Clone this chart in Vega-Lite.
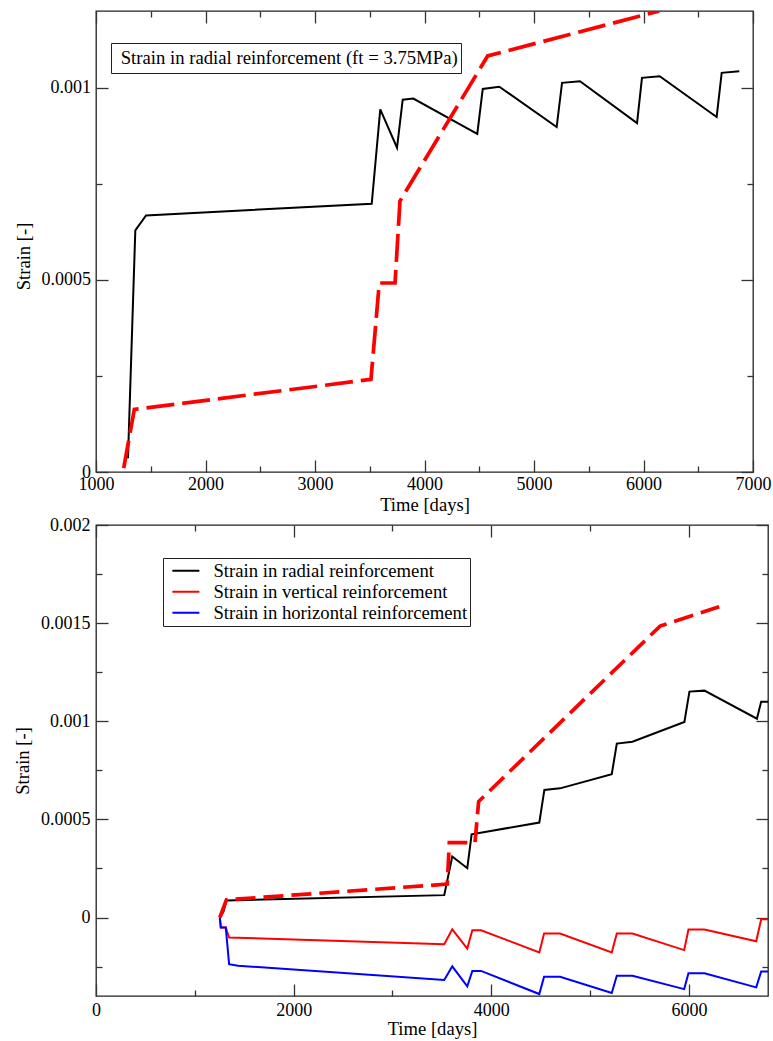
{
  "$schema": "https://vega.github.io/schema/vega-lite/v6.json",
  "background": "white",
  "padding": {"left": 12, "top": 9, "right": 4, "bottom": 2},
  "spacing": 0,
  "resolve": {"scale": {"color": "independent"}, "legend": {"color": "independent"}},
  "config": {
    "font": "Liberation Serif",
    "view": {"stroke": "#222", "strokeWidth": 1.3},
    "axis": {
      "domain": false,
      "grid": false,
      "labelFont": "Liberation Serif",
      "labelFontSize": 18,
      "labelColor": "#000",
      "labelFlush": false,
      "labelOverlap": false,
      "titleFont": "Liberation Serif",
      "titleFontSize": 18.6,
      "titleFontWeight": "normal",
      "titleColor": "#000",
      "tickColor": "#333",
      "tickWidth": 1.3
    },
    "legend": {
      "labelFont": "Liberation Serif",
      "labelFontSize": 18.7,
      "labelColor": "#000",
      "labelLimit": 0,
      "strokeColor": "#222",
      "fillColor": "#ffffff"
    }
  },
  "datasets": {
    "top_solid": [
      {"t": 1292, "strain": 0.000036, "series": "Strain in radial reinforcement (ft = 3.75MPa)"},
      {"t": 1359, "strain": 0.000629, "series": "Strain in radial reinforcement (ft = 3.75MPa)"},
      {"t": 1457, "strain": 0.000668, "series": "Strain in radial reinforcement (ft = 3.75MPa)"},
      {"t": 3518, "strain": 0.000698, "series": "Strain in radial reinforcement (ft = 3.75MPa)"},
      {"t": 3596, "strain": 0.000944, "series": "Strain in radial reinforcement (ft = 3.75MPa)"},
      {"t": 3749, "strain": 0.000844, "series": "Strain in radial reinforcement (ft = 3.75MPa)"},
      {"t": 3801, "strain": 0.000969, "series": "Strain in radial reinforcement (ft = 3.75MPa)"},
      {"t": 3898, "strain": 0.000972, "series": "Strain in radial reinforcement (ft = 3.75MPa)"},
      {"t": 4482, "strain": 0.00088, "series": "Strain in radial reinforcement (ft = 3.75MPa)"},
      {"t": 4532, "strain": 0.000997, "series": "Strain in radial reinforcement (ft = 3.75MPa)"},
      {"t": 4683, "strain": 0.001003, "series": "Strain in radial reinforcement (ft = 3.75MPa)"},
      {"t": 5207, "strain": 0.000898, "series": "Strain in radial reinforcement (ft = 3.75MPa)"},
      {"t": 5256, "strain": 0.001013, "series": "Strain in radial reinforcement (ft = 3.75MPa)"},
      {"t": 5420, "strain": 0.001017, "series": "Strain in radial reinforcement (ft = 3.75MPa)"},
      {"t": 5941, "strain": 0.000908, "series": "Strain in radial reinforcement (ft = 3.75MPa)"},
      {"t": 5986, "strain": 0.001026, "series": "Strain in radial reinforcement (ft = 3.75MPa)"},
      {"t": 6148, "strain": 0.00103, "series": "Strain in radial reinforcement (ft = 3.75MPa)"},
      {"t": 6668, "strain": 0.000924, "series": "Strain in radial reinforcement (ft = 3.75MPa)"},
      {"t": 6714, "strain": 0.001039, "series": "Strain in radial reinforcement (ft = 3.75MPa)"},
      {"t": 6875, "strain": 0.001043, "series": "Strain in radial reinforcement (ft = 3.75MPa)"}
    ],
    "top_dashed": [
      {"t": 1253, "strain": 0.00001},
      {"t": 1350, "strain": 0.000163},
      {"t": 3511, "strain": 0.000241},
      {"t": 3587, "strain": 0.000492},
      {"t": 3731, "strain": 0.000492},
      {"t": 3776, "strain": 0.000705},
      {"t": 3815, "strain": 0.000724},
      {"t": 4577, "strain": 0.001083},
      {"t": 6144, "strain": 0.0012}
    ],
    "bottom_solid": [
      {"t": 1253, "strain": 0, "series": "Strain in radial reinforcement"},
      {"t": 1290, "strain": 0.00003, "series": "Strain in radial reinforcement"},
      {"t": 1320, "strain": 0.000087, "series": "Strain in radial reinforcement"},
      {"t": 3524, "strain": 0.000114, "series": "Strain in radial reinforcement"},
      {"t": 3605, "strain": 0.000311, "series": "Strain in radial reinforcement"},
      {"t": 3757, "strain": 0.000251, "series": "Strain in radial reinforcement"},
      {"t": 3801, "strain": 0.000424, "series": "Strain in radial reinforcement"},
      {"t": 4486, "strain": 0.000484, "series": "Strain in radial reinforcement"},
      {"t": 4537, "strain": 0.00065, "series": "Strain in radial reinforcement"},
      {"t": 4696, "strain": 0.000658, "series": "Strain in radial reinforcement"},
      {"t": 5219, "strain": 0.00073, "series": "Strain in radial reinforcement"},
      {"t": 5270, "strain": 0.000886, "series": "Strain in radial reinforcement"},
      {"t": 5428, "strain": 0.000896, "series": "Strain in radial reinforcement"},
      {"t": 5954, "strain": 0.000996, "series": "Strain in radial reinforcement"},
      {"t": 6005, "strain": 0.001151, "series": "Strain in radial reinforcement"},
      {"t": 6157, "strain": 0.001156, "series": "Strain in radial reinforcement"},
      {"t": 6688, "strain": 0.001013, "series": "Strain in radial reinforcement"},
      {"t": 6731, "strain": 0.0011, "series": "Strain in radial reinforcement"},
      {"t": 6800, "strain": 0.0011, "series": "Strain in radial reinforcement"},
      {"t": 1253, "strain": 0, "series": "Strain in vertical reinforcement"},
      {"t": 1263, "strain": -0.000051, "series": "Strain in vertical reinforcement"},
      {"t": 1313, "strain": -0.000051, "series": "Strain in vertical reinforcement"},
      {"t": 1347, "strain": -0.000102, "series": "Strain in vertical reinforcement"},
      {"t": 3524, "strain": -0.000136, "series": "Strain in vertical reinforcement"},
      {"t": 3605, "strain": -0.00006, "series": "Strain in vertical reinforcement"},
      {"t": 3757, "strain": -0.000158, "series": "Strain in vertical reinforcement"},
      {"t": 3808, "strain": -0.000065, "series": "Strain in vertical reinforcement"},
      {"t": 3896, "strain": -0.000065, "series": "Strain in vertical reinforcement"},
      {"t": 4486, "strain": -0.000178, "series": "Strain in vertical reinforcement"},
      {"t": 4534, "strain": -0.000082, "series": "Strain in vertical reinforcement"},
      {"t": 4696, "strain": -0.000082, "series": "Strain in vertical reinforcement"},
      {"t": 5219, "strain": -0.000178, "series": "Strain in vertical reinforcement"},
      {"t": 5270, "strain": -0.000082, "series": "Strain in vertical reinforcement"},
      {"t": 5428, "strain": -0.000082, "series": "Strain in vertical reinforcement"},
      {"t": 5952, "strain": -0.000166, "series": "Strain in vertical reinforcement"},
      {"t": 5995, "strain": -0.000061, "series": "Strain in vertical reinforcement"},
      {"t": 6157, "strain": -0.000061, "series": "Strain in vertical reinforcement"},
      {"t": 6681, "strain": -0.000121, "series": "Strain in vertical reinforcement"},
      {"t": 6731, "strain": -0.000009, "series": "Strain in vertical reinforcement"},
      {"t": 6800, "strain": -0.000009, "series": "Strain in vertical reinforcement"},
      {"t": 1253, "strain": 0, "series": "Strain in horizontal reinforcement"},
      {"t": 1263, "strain": -0.000051, "series": "Strain in horizontal reinforcement"},
      {"t": 1313, "strain": -0.000051, "series": "Strain in horizontal reinforcement"},
      {"t": 1347, "strain": -0.000238, "series": "Strain in horizontal reinforcement"},
      {"t": 1438, "strain": -0.000246, "series": "Strain in horizontal reinforcement"},
      {"t": 3524, "strain": -0.000318, "series": "Strain in horizontal reinforcement"},
      {"t": 3605, "strain": -0.000249, "series": "Strain in horizontal reinforcement"},
      {"t": 3757, "strain": -0.000351, "series": "Strain in horizontal reinforcement"},
      {"t": 3808, "strain": -0.000272, "series": "Strain in horizontal reinforcement"},
      {"t": 3896, "strain": -0.000272, "series": "Strain in horizontal reinforcement"},
      {"t": 4486, "strain": -0.00039, "series": "Strain in horizontal reinforcement"},
      {"t": 4534, "strain": -0.000302, "series": "Strain in horizontal reinforcement"},
      {"t": 4696, "strain": -0.000302, "series": "Strain in horizontal reinforcement"},
      {"t": 5219, "strain": -0.000385, "series": "Strain in horizontal reinforcement"},
      {"t": 5270, "strain": -0.000297, "series": "Strain in horizontal reinforcement"},
      {"t": 5428, "strain": -0.000297, "series": "Strain in horizontal reinforcement"},
      {"t": 5952, "strain": -0.000365, "series": "Strain in horizontal reinforcement"},
      {"t": 5995, "strain": -0.000284, "series": "Strain in horizontal reinforcement"},
      {"t": 6157, "strain": -0.000284, "series": "Strain in horizontal reinforcement"},
      {"t": 6681, "strain": -0.000356, "series": "Strain in horizontal reinforcement"},
      {"t": 6731, "strain": -0.000275, "series": "Strain in horizontal reinforcement"},
      {"t": 6800, "strain": -0.000275, "series": "Strain in horizontal reinforcement"}
    ],
    "bottom_dashed": [
      {"t": 1253, "strain": 0},
      {"t": 1320, "strain": 0.00009},
      {"t": 3555, "strain": 0.00017},
      {"t": 3575, "strain": 0.000382},
      {"t": 3835, "strain": 0.000382},
      {"t": 3872, "strain": 0.000591},
      {"t": 5708, "strain": 0.001485},
      {"t": 6306, "strain": 0.001584}
    ]
  },
  "vconcat": [
    {
      "width": 657,
      "height": 461,
      "resolve": {"axis": {"x": "independent", "y": "independent"}},
      "layer": [
        {
          "data": {"name": "top_solid"},
          "mark": {"type": "line", "strokeWidth": 2, "clip": true},
          "encoding": {
            "x": {
              "field": "t", "type": "quantitative",
              "scale": {"domain": [1000, 7000], "nice": false, "zero": false},
              "axis": {
                "title": "Time [days]",
                "values": [1000, 1500, 2000, 2500, 3000, 3500, 4000, 4500, 5000, 5500, 6000, 6500, 7000],
                "tickSize": {"condition": {"test": "datum.value % 1000 === 0", "value": -12}, "value": -6},
                "labelExpr": "datum.value % 1000 === 0 ? format(datum.value, 'd') : ''",
                "labelPadding": 15,
                "titlePadding": -4
              }
            },
            "y": {
              "field": "strain", "type": "quantitative",
              "scale": {"domain": [0, 0.0012], "nice": false, "zero": false},
              "axis": {
                "title": "Strain [-]",
                "values": [0, 0.00025, 0.0005, 0.00075, 0.001],
                "tickSize": {"condition": {"test": "abs(datum.value * 2000 - round(datum.value * 2000)) < 1e-6", "value": -12}, "value": -6},
                "labelExpr": "abs(datum.value * 2000 - round(datum.value * 2000)) < 1e-6 ? format(datum.value, '~g') : ''",
                "labelPadding": 17.5,
                "titlePadding": 8,
                "titleY": 245
              }
            },
            "color": {
              "field": "series", "type": "nominal",
              "scale": {"domain": ["Strain in radial reinforcement (ft = 3.75MPa)"], "range": ["#000000"]},
              "legend": {
                "orient": "none", "legendX": 15, "legendY": 32,
                "title": null,
                "symbolSize": 0, "symbolOffset": 0, "labelOffset": -12,
                "clipHeight": 24,
                "padding": 3
              }
            }
          }
        },
        {
          "data": {"name": "top_dashed"},
          "mark": {"type": "line", "color": "#ff0000", "strokeWidth": 3.7, "strokeDash": [28, 8], "clip": true},
          "encoding": {
            "x": {
              "field": "t", "type": "quantitative",
              "scale": {"domain": [1000, 7000], "nice": false, "zero": false},
              "axis": {
                "orient": "top", "title": null, "labels": false,
                "values": [1000, 1500, 2000, 2500, 3000, 3500, 4000, 4500, 5000, 5500, 6000, 6500, 7000],
                "tickSize": {"condition": {"test": "datum.value % 1000 === 0", "value": -12}, "value": -6}
              }
            },
            "y": {
              "field": "strain", "type": "quantitative",
              "scale": {"domain": [0, 0.0012], "nice": false, "zero": false},
              "axis": {
                "orient": "right", "title": null, "labels": false,
                "values": [0, 0.00025, 0.0005, 0.00075, 0.001],
                "tickSize": {"condition": {"test": "abs(datum.value * 2000 - round(datum.value * 2000)) < 1e-6", "value": -12}, "value": -6}
              }
            }
          }
        }
      ]
    },
    {
      "width": 672,
      "height": 471,
      "resolve": {"axis": {"x": "independent", "y": "independent"}},
      "layer": [
        {
          "data": {"name": "bottom_solid"},
          "mark": {"type": "line", "strokeWidth": 2, "clip": true},
          "encoding": {
            "x": {
              "field": "t", "type": "quantitative",
              "scale": {"domain": [0, 6800], "nice": false, "zero": false},
              "axis": {
                "title": "Time [days]",
                "values": [0, 1000, 2000, 3000, 4000, 5000, 6000],
                "tickSize": {"condition": {"test": "datum.value % 2000 === 0", "value": -12}, "value": -6},
                "labelExpr": "datum.value % 2000 === 0 ? format(datum.value, 'd') : ''",
                "labelPadding": 17,
                "titlePadding": -6
              }
            },
            "y": {
              "field": "strain", "type": "quantitative",
              "scale": {"domain": [-0.0004, 0.002], "nice": false, "zero": false},
              "axis": {
                "title": "Strain [-]",
                "values": [-0.00025, 0, 0.00025, 0.0005, 0.00075, 0.001, 0.00125, 0.0015, 0.00175, 0.002],
                "tickSize": {"condition": {"test": "abs(datum.value * 2000 - round(datum.value * 2000)) < 1e-6", "value": -12}, "value": -6},
                "labelExpr": "abs(datum.value * 2000 - round(datum.value * 2000)) < 1e-6 ? format(datum.value, '~g') : ''",
                "labelPadding": 18,
                "titlePadding": 8
              }
            },
            "color": {
              "field": "series", "type": "nominal",
              "scale": {
                "domain": ["Strain in radial reinforcement", "Strain in vertical reinforcement", "Strain in horizontal reinforcement"],
                "range": ["#000000", "#ff0000", "#0000ff"]
              },
              "legend": {
                "orient": "none", "legendX": 67, "legendY": 33,
                "title": null,
                "symbolType": "stroke", "symbolSize": 729, "symbolStrokeWidth": 2,
                "symbolOffset": 5.8, "labelOffset": 13,
                "clipHeight": 20.5,
                "padding": 2.6, "rowPadding": 0
              }
            }
          }
        },
        {
          "data": {"name": "bottom_dashed"},
          "mark": {"type": "line", "color": "#ff0000", "strokeWidth": 3.7, "strokeDash": [20, 8], "clip": true},
          "encoding": {
            "x": {
              "field": "t", "type": "quantitative",
              "scale": {"domain": [0, 6800], "nice": false, "zero": false},
              "axis": {
                "orient": "top", "title": null, "labels": false,
                "values": [0, 1000, 2000, 3000, 4000, 5000, 6000],
                "tickSize": {"condition": {"test": "datum.value % 2000 === 0", "value": -12}, "value": -6}
              }
            },
            "y": {
              "field": "strain", "type": "quantitative",
              "scale": {"domain": [-0.0004, 0.002], "nice": false, "zero": false},
              "axis": {
                "orient": "right", "title": null, "labels": false,
                "values": [-0.00025, 0, 0.00025, 0.0005, 0.00075, 0.001, 0.00125, 0.0015, 0.00175, 0.002],
                "tickSize": {"condition": {"test": "abs(datum.value * 2000 - round(datum.value * 2000)) < 1e-6", "value": -12}, "value": -6}
              }
            }
          }
        }
      ]
    }
  ]
}
